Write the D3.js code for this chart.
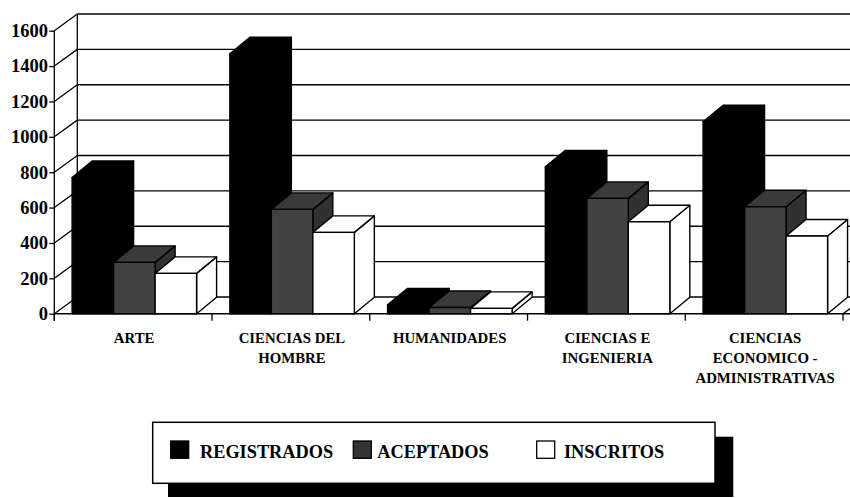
<!DOCTYPE html>
<html><head><meta charset="utf-8">
<script src="https://cdn.jsdelivr.net/npm/d3@7"></script>
<style>html,body{margin:0;padding:0;background:#fff;}svg{display:block;}</style>
</head><body>
<svg id="chart" width="850" height="498"></svg>
<script>
// ---- data ----
const categories = ["ARTE", "CIENCIAS DEL HOMBRE", "HUMANIDADES", "CIENCIAS E INGENIERIA", "CIENCIAS ECONOMICO - ADMINISTRATIVAS"];
const categoryLines = [["ARTE"], ["CIENCIAS DEL", "HOMBRE"], ["HUMANIDADES"], ["CIENCIAS E", "INGENIERIA"], ["CIENCIAS", "ECONOMICO -", "ADMINISTRATIVAS"]];
const seriesNames = ["REGISTRADOS", "ACEPTADOS", "INSCRITOS"];
const registrados = [770, 1470, 50, 830, 1085];
const aceptados = [290, 590, 35, 652, 605];
const inscritos = [228, 460, 30, 520, 439];
const yTicks = [0, 200, 400, 600, 800, 1000, 1200, 1400, 1600];

const seriesValues = [registrados, aceptados, inscritos];
const fills = [
  {front: "#000", top: "#000", side: "#000"},
  {front: "#424242", top: "#3a3a3a", side: "#313131"},
  {front: "#fff", top: "#fff", side: "#fff"}
];

const svg = d3.select("#chart");
const x0 = 54.3, x1 = 843, yBase = 313.7, yTop = 30.7;
const wallDx = 23, wallDy = -16.7;
const barDx = 20, barDy = -16.5;

const y = d3.scaleLinear().domain([0, 1600]).range([yBase, yTop]);
const xCat = d3.scaleBand().domain(categories).range([x0, x1]).padding(0);
const xSer = d3.scaleBand().domain(seriesNames).range([17.8, 17.8 + 124.5]).padding(0);

const line = (a, b, c, d, w) => svg.append("line").attr("x1", a).attr("y1", b).attr("x2", c).attr("y2", d)
  .attr("stroke", "#000").attr("stroke-width", w || 1.3);

// back wall grid
yTicks.forEach(v => {
  const yf = y(v), yb = y(v) + wallDy;
  line(x0 + wallDx, yb, x1 + wallDx, yb);
  line(x0, yf, x0 + wallDx, yb);
});
// walls edges
line(x0 + wallDx, y(1600) + wallDy, x0 + wallDx, yBase + wallDy);
line(x0, y(1600), x0, yBase + 7);
// floor
line(x0, yBase, x1 + wallDx + 20, yBase, 1.5);
line(x1, yBase, x1 + wallDx, yBase + wallDy);

// y axis ticks and labels
const yAxis = d3.axisLeft(y).tickValues(yTicks).tickFormat(d3.format("d")).tickSize(5).tickSizeOuter(0);
const ga = svg.append("g").attr("transform", `translate(${x0},0)`).call(yAxis);
ga.select(".domain").remove();
ga.selectAll(".tick line").attr("stroke", "#000").attr("stroke-width", 1.3);
ga.selectAll(".tick text").attr("x", -6.3).attr("fill", "#000")
  .style("font-family", "'Liberation Serif', serif").style("font-size", "18.5px").style("font-weight", "bold");

// x ticks
const xb = categories.map(c => xCat(c)).concat([x1]);
xb.forEach(xx => line(xx, yBase, xx, yBase + 7));

// bars
const gBars = svg.append("g");
categories.forEach((c, ci) => {
  seriesNames.forEach((s, si) => {
    const v = seriesValues[si][ci];
    const bx = xCat(c) + xSer(s), bw = xSer.bandwidth();
    const yt = y(v), yb = y(0);
    const f = fills[si];
    const poly = (pts, fill) => gBars.append("polygon").attr("points", pts.map(p => p.join(",")).join(" "))
      .attr("fill", fill).attr("stroke", "#000").attr("stroke-width", 1.4).attr("stroke-linejoin", "round");
    poly([[bx + bw, yb], [bx + bw + barDx, yb + barDy], [bx + bw + barDx, yt + barDy], [bx + bw, yt]], f.side);
    poly([[bx, yt], [bx + barDx, yt + barDy], [bx + bw + barDx, yt + barDy], [bx + bw, yt]], f.top);
    poly([[bx, yb], [bx, yt], [bx + bw, yt], [bx + bw, yb]], f.front);
  });
});

// category labels
categories.forEach((c, ci) => {
  const cx = xCat(c) + xCat.bandwidth() / 2 + 1;
  const t = svg.append("text").attr("text-anchor", "middle")
    .style("font-family", "'Liberation Serif', serif").style("font-size", "14.8px").style("font-weight", "bold");
  categoryLines[ci].forEach((l, li) => {
    t.append("tspan").attr("x", cx).attr("y", 342.7 + li * 20).text(l);
  });
});

// legend
const gl = svg.append("g");
gl.append("rect").attr("x", 168).attr("y", 436.7).attr("width", 565.3).attr("height", 60.3).attr("fill", "#000");
gl.append("rect").attr("x", 152.7).attr("y", 422.3).attr("width", 562.3).attr("height", 61).attr("fill", "#fff")
  .attr("stroke", "#000").attr("stroke-width", 1.5);
const legX = d3.scaleOrdinal().domain(seriesNames).range([170.7, 353.3, 536.7]);
const legTextX = d3.scaleOrdinal().domain(seriesNames).range([200, 377.3, 564]);
seriesNames.forEach((s, si) => {
  gl.append("rect").attr("x", legX(s)).attr("y", 441).attr("width", 18).attr("height", 17.3)
    .attr("fill", si === 1 ? "#333" : fills[si].front).attr("stroke", "#000").attr("stroke-width", 1.3);
  gl.append("text").attr("x", legTextX(s)).attr("y", 458.3).text(s)
    .style("font-family", "'Liberation Serif', serif").style("font-size", "18.3px").style("font-weight", "bold");
});
</script>
</body></html>
